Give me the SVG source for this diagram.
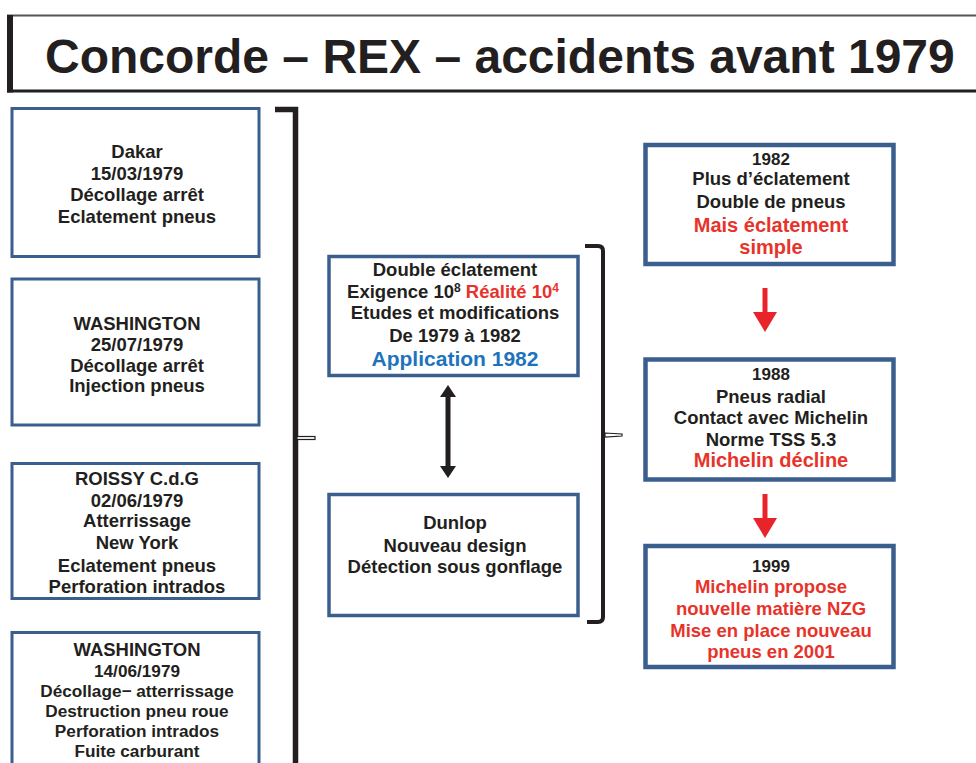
<svg xmlns="http://www.w3.org/2000/svg" width="976" height="763" viewBox="0 0 976 763">
<style>
text{font-family:"Liberation Sans",Arial,sans-serif;font-weight:bold;fill:#231f20;text-anchor:middle}
.t{font-size:18.5px}
.s{font-size:17.2px}
.big{font-size:20px}
.red{fill:#e8332a}
.blue{fill:#1e73be}
.lb{fill:#fff;stroke:#3a5f8e;stroke-width:3}
.mb{fill:#fff;stroke:#3a5f8e;stroke-width:3.5}
.rb{fill:#fff;stroke:#3a5f8e;stroke-width:4.5}
</style>
<rect width="976" height="763" fill="#fff"/>
<g id="title">
<line x1="7" y1="15.5" x2="976" y2="15.5" stroke="#555" stroke-width="1.8"/>
<line x1="10" y1="15" x2="10" y2="92.5" stroke="#231f20" stroke-width="6"/>
<line x1="7" y1="91" x2="976" y2="91" stroke="#231f20" stroke-width="3"/>
<text x="45" y="73" style="font-size:48px;text-anchor:start">Concorde – REX – accidents avant 1979</text>
</g>
<g id="dakar">
<rect class="lb" x="12" y="108.5" width="247" height="148"/>
<text class="t" x="137" y="158">Dakar</text>
<text class="t" x="137" y="180">15/03/1979</text>
<text class="t" x="137" y="201">Décollage arrêt</text>
<text class="t" x="137" y="223">Eclatement pneus</text>
</g>
<g id="washington1">
<rect class="lb" x="12" y="279" width="247" height="146"/>
<text class="t" x="137" y="330">WASHINGTON</text>
<text class="t" x="137" y="351">25/07/1979</text>
<text class="t" x="137" y="372">Décollage arrêt</text>
<text class="t" x="137" y="392">Injection pneus</text>
</g>
<g id="roissy">
<rect class="lb" x="12" y="463.5" width="247" height="135"/>
<text class="t" x="137" y="485">ROISSY C.d.G</text>
<text class="t" x="137" y="507">02/06/1979</text>
<text class="t" x="137" y="527">Atterrissage</text>
<text class="t" x="137" y="549">New York</text>
<text class="t" x="137" y="572">Eclatement pneus</text>
<text class="t" x="137" y="593">Perforation intrados</text>
</g>
<g id="washington2">
<rect class="lb" x="12" y="632.5" width="247" height="200"/>
<text class="t" x="137" y="656">WASHINGTON</text>
<text class="s" x="137" y="677">14/06/1979</text>
<text class="s" x="137" y="697">Décollage− atterrissage</text>
<text class="s" x="137" y="717">Destruction pneu roue</text>
<text class="s" x="137" y="737">Perforation intrados</text>
<text class="s" x="137" y="757">Fuite carburant</text>
</g>
<g id="double">
<rect class="mb" x="329" y="256.5" width="249" height="119"/>
<text class="t" x="455" y="276">Double éclatement</text>
<text class="t" x="453" y="298">Exigence 10<tspan font-size="12" dy="-6">8</tspan><tspan dy="6" class="red"> Réalité 10</tspan><tspan class="red" font-size="12" dy="-6">4</tspan></text>
<text class="t" x="455" y="319">Etudes et modifications</text>
<text class="t" x="455" y="342">De 1979 à 1982</text>
<text class="blue" x="455" y="366" style="font-size:21px">Application 1982</text>
</g>
<g id="dunlop">
<rect class="mb" x="329" y="494.5" width="249" height="121"/>
<text class="t" x="455" y="529">Dunlop</text>
<text class="t" x="455" y="552">Nouveau design</text>
<text class="t" x="455" y="573">Détection sous gonflage</text>
</g>
<g id="r1982">
<rect class="rb" x="645.5" y="145" width="248" height="119"/>
<text x="771" y="165" style="font-size:17px">1982</text>
<text class="t" x="771" y="185">Plus d’éclatement</text>
<text class="t" x="771" y="208">Double de pneus</text>
<text class="big red" x="771" y="232">Mais éclatement</text>
<text class="big red" x="771" y="254">simple</text>
</g>
<g id="r1988">
<rect class="rb" x="645.5" y="359.5" width="248" height="120"/>
<text x="771" y="380" style="font-size:17px">1988</text>
<text class="t" x="771" y="403">Pneus radial</text>
<text class="t" x="771" y="424">Contact avec Michelin</text>
<text class="t" x="771" y="446">Norme TSS 5.3</text>
<text class="big red" x="771" y="467">Michelin décline</text>
</g>
<g id="r1999">
<rect class="rb" x="645.5" y="546" width="248" height="121"/>
<text x="771" y="572" style="font-size:17px">1999</text>
<text class="t red" x="771" y="593">Michelin propose</text>
<text class="t red" x="771" y="615">nouvelle matière NZG</text>
<text class="t red" x="771" y="637">Mise en place nouveau</text>
<text class="t red" x="771" y="658">pneus en 2001</text>
</g>
<g id="connectors">
<path d="M275 109.5 H295.5 V763" fill="none" stroke="#231f20" stroke-width="5.5"/>
<rect x="297" y="436.5" width="18" height="3" fill="#fff" stroke="#231f20" stroke-width="1.2"/>
<path d="M585 246 H598 Q603 246 603 251 V617 Q603 622 598 622 H587" fill="none" stroke="#231f20" stroke-width="4"/>
<path d="M605 433 L622 434 L622 436 L605 437 Z" fill="#fff" stroke="#231f20" stroke-width="1.2"/>
<polygon points="448,385 456,397 450.5,397 450.5,466 456,466 448,478 440,466 445.5,466 445.5,397 440,397" fill="#231f20"/>
<polygon points="762.5,288 767.5,288 767.5,312 777,312 765,332 753,312 762.5,312" fill="#e8242a"/>
<polygon points="762.5,494 767.5,494 767.5,518 777,518 765,538 753,518 762.5,518" fill="#e8242a"/>
</g>
</svg>
